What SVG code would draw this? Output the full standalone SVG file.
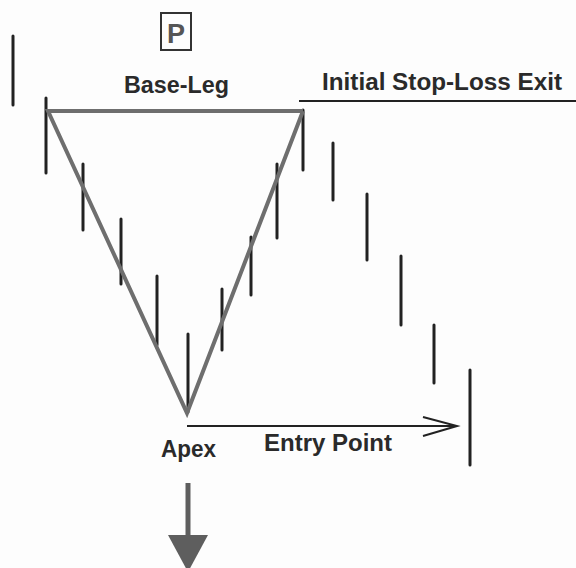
<svg xmlns="http://www.w3.org/2000/svg" width="576" height="568" viewBox="0 0 576 568">
<style>
.bar{stroke:#222;stroke-width:3;stroke-linecap:round;fill:none}
.leg{stroke:#6e6e6e;stroke-width:4;stroke-linejoin:miter;fill:none}
.lbl{font-family:"Liberation Sans",Arial,sans-serif;font-weight:bold;font-size:23px;fill:#2a2a2a}
.thin{stroke:#222;stroke-width:2;fill:none}
</style>
<rect width="576" height="568" fill="#fdfdfd"/>
<g id="p-box">
<rect x="161" y="13" width="30" height="37" fill="none" stroke="#333" stroke-width="2"/>
<text x="176" y="43" text-anchor="middle" font-family="Liberation Sans,Arial,sans-serif" font-weight="bold" font-size="27" fill="#555">P</text>
</g>
<g id="bars">
<line class="bar" x1="13" y1="36" x2="13" y2="105"/>
<line class="bar" x1="46" y1="98" x2="46" y2="173"/>
<line class="bar" x1="83" y1="164" x2="83" y2="230"/>
<line class="bar" x1="121" y1="219" x2="121" y2="284"/>
<line class="bar" x1="157" y1="276" x2="157" y2="345"/>
<line class="bar" x1="188" y1="334" x2="188" y2="412"/>
<line class="bar" x1="222" y1="289" x2="222" y2="350"/>
<line class="bar" x1="251" y1="237" x2="251" y2="295"/>
<line class="bar" x1="277" y1="164" x2="277" y2="238"/>
<line class="bar" x1="303" y1="110" x2="303" y2="170"/>
<line class="bar" x1="333" y1="143" x2="333" y2="200"/>
<line class="bar" x1="367" y1="194" x2="367" y2="260"/>
<line class="bar" x1="401" y1="256" x2="401" y2="325"/>
<line class="bar" x1="434" y1="325" x2="434" y2="383"/>
<line class="bar" x1="470" y1="370" x2="470" y2="465"/>
</g>
<g id="base-leg">
<polyline class="leg" points="303,111 48,111 187,413 303,111"/>
<text class="lbl" x="124" y="93" textLength="105" lengthAdjust="spacingAndGlyphs">Base-Leg</text>
</g>
<g id="stop-loss">
<line x1="299" y1="101" x2="576" y2="101" stroke="#222" stroke-width="2"/>
<text class="lbl" x="322" y="90" font-size="24" textLength="240" lengthAdjust="spacingAndGlyphs">Initial Stop-Loss Exit</text>
</g>
<g id="entry">
<line class="thin" x1="187" y1="426" x2="457" y2="426"/>
<polyline class="thin" points="423,417 457,426 423,436"/>
<text class="lbl" x="264" y="451" font-size="24" textLength="128" lengthAdjust="spacingAndGlyphs">Entry Point</text>
</g>
<g id="apex">
<text class="lbl" x="161" y="457" textLength="55" lengthAdjust="spacingAndGlyphs">Apex</text>
</g>
<g id="down-arrow">
<line x1="188" y1="483" x2="188" y2="536" stroke="#5e5e5e" stroke-width="5"/>
<polygon points="168,535 208,535 188,572" fill="#5e5e5e"/>
</g>
</svg>
